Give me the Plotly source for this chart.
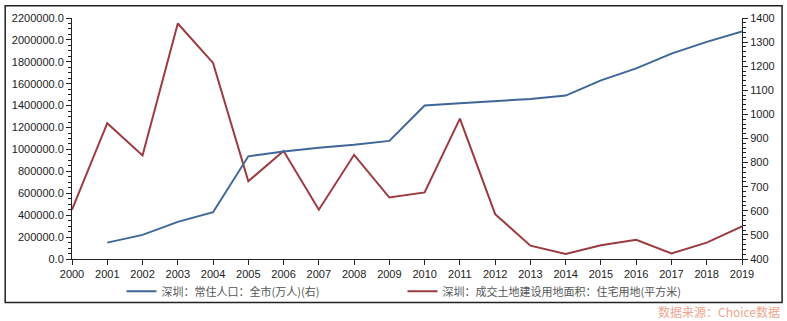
import plotly.graph_objects as go

years = list(range(2000, 2020))
land_area = [450000, 1240000, 945000, 2150000, 1790000, 710000, 985000, 450000, 951000, 561000,
             608000, 1282000, 409000, 122000, 45000, 125000, 176000, 51000, 149000, 298000]
pop_years = list(range(2001, 2020))
population = [468, 500, 554, 594, 826, 846, 862, 874, 890, 1037,
              1046, 1055, 1064, 1078, 1141, 1191, 1252, 1301, 1344]

name_pop = "深圳：常住人口：全市(万人)(右)"
name_land = "深圳：成交土地建设用地面积：住宅用地(平方米)"
source = "数据来源：Choice数据"

W, H = 787, 321
ML, MR, MT, MB = 68, 42, 13, 62
pw, ph = W - ML - MR, H - MT - MB

def px_x(p):
    return (p - ML) / pw

def px_y(p):
    return (H - MB - p) / ph

FONT = "Liberation Sans, Arial, Noto Sans CJK SC, sans-serif"
BLUE = "#3f6699"
RED = "#9c3a3f"

fig = go.Figure()
fig.add_trace(go.Scatter(x=pop_years, y=population, name=name_pop, mode="lines",
                         line=dict(color=BLUE, width=2), yaxis="y2"))
fig.add_trace(go.Scatter(x=years, y=land_area, name=name_land, mode="lines",
                         line=dict(color=RED, width=2), yaxis="y"))

axis_common = dict(showgrid=False, zeroline=False, showline=True, linecolor="#222", linewidth=1,
                   ticks="outside", ticklen=5, tickcolor="#222",
                   tickfont=dict(family=FONT, size=11, color="#222"))

fig.update_layout(
    width=W, height=H,
    margin=dict(l=ML, r=MR, t=MT, b=MB),
    paper_bgcolor="white", plot_bgcolor="white",
    font=dict(family=FONT, size=11, color="#444"),
    xaxis=dict(range=[2000, 2019], dtick=1, **axis_common),
    yaxis=dict(range=[0, 2200000], dtick=200000, tickformat=".1f",
               minor=dict(ticks="outside", ticklen=3, tickcolor="#222", nticks=5), **axis_common),
    yaxis2=dict(range=[400, 1400], dtick=100, overlaying="y", side="right",
                minor=dict(ticks="outside", ticklen=3, tickcolor="#222", nticks=5), **axis_common),
    showlegend=True,
    legend=dict(orientation="h", x=px_x(118), y=px_y(292), xanchor="left", yanchor="middle",
                font=dict(family="Noto Sans CJK SC, sans-serif", size=11, color="#555"),
                entrywidth=236, entrywidthmode="pixels", bgcolor="rgba(0,0,0,0)"),
    shapes=[dict(type="rect", xref="paper", yref="paper",
                 x0=px_x(0.5), x1=px_x(785.5), y0=px_y(0.5), y1=px_y(303.5),
                 line=dict(color="#222", width=1.5), fillcolor="rgba(0,0,0,0)", layer="below")],
    annotations=[dict(text=source, xref="paper", yref="paper", x=px_x(785), y=px_y(313),
                      xanchor="right", yanchor="middle", showarrow=False,
                      font=dict(family="Noto Sans CJK SC, sans-serif", size=12, color="#eba58e"))],
)

fig.write_html("out.html")
